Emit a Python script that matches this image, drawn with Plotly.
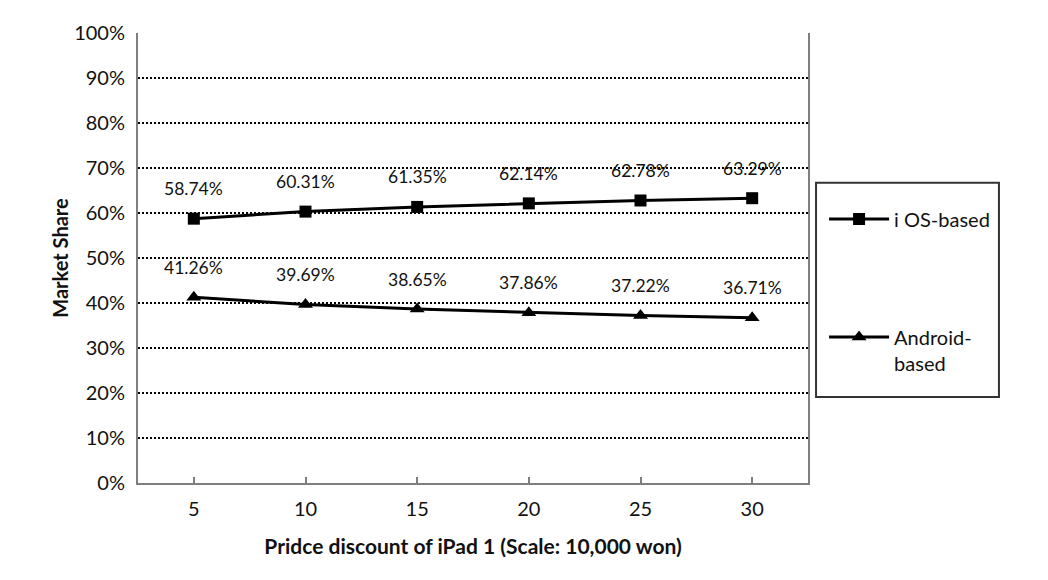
import plotly.graph_objects as go

categories = ["5", "10", "15", "20", "25", "30"]
ios_share = [58.74, 60.31, 61.35, 62.14, 62.78, 63.29]
android_share = [41.26, 39.69, 38.65, 37.86, 37.22, 36.71]
series_names = ["i OS-based", "Android-<br>based"]
y_ticks = list(range(0, 101, 10))
y_tick_labels = [f"{v}%" for v in y_ticks]

FONT = "Lato"
TXT = "#111111"
AX = "#7f7f7f"

fig = go.Figure()
fig.add_trace(go.Scatter(
    x=categories, y=ios_share, name=series_names[0], mode="lines+markers",
    line=dict(color="black", width=3),
    marker=dict(symbol="square", size=12, color="black"),
    legendgroup="a",
))
fig.add_trace(go.Scatter(
    x=categories, y=android_share, name=series_names[1], mode="lines+markers",
    line=dict(color="black", width=3),
    marker=dict(symbol="triangle-up", size=13, color="black"),
    legendgroup="b",
))

for series in (ios_share, android_share):
    for i, v in enumerate(series):
        fig.add_annotation(x=i, y=v, xref="x", yref="y", text=f"{v:.2f}%",
                           showarrow=False, yshift=30,
                           font=dict(family=FONT, size=17.5, color=TXT))

# legend frame
fig.add_shape(type="rect", xref="paper", yref="paper",
              x0=1.012, x1=1.285, y0=0.191, y1=0.667,
              line=dict(color="#333333", width=2), fillcolor="rgba(0,0,0,0)")

fig.update_layout(
    width=1048, height=580,
    margin=dict(l=138, r=240, t=33, b=97),
    paper_bgcolor="white", plot_bgcolor="white",
    font=dict(family=FONT, color=TXT),
    showlegend=True,
    legend=dict(x=1.024, y=0.63, xanchor="left", yanchor="top",
                font=dict(family=FONT, size=20, color=TXT),
                bgcolor="rgba(0,0,0,0)", borderwidth=0, valign="top",
                itemwidth=60, tracegroupgap=89, traceorder="grouped"),
    xaxis=dict(
        type="category", range=[-0.5, 5.5],
        showline=True, linecolor=AX, linewidth=2,
        ticks="inside", ticklen=6, tickcolor=AX, tickwidth=2,
        tickfont=dict(family=FONT, size=20, color=TXT),
        ticklabelstandoff=7,
        showgrid=False, zeroline=False,
        title=dict(text="<b>Pridce discount of iPad 1 (Scale: 10,000 won)</b>",
                   font=dict(family=FONT, size=21, color=TXT), standoff=20),
    ),
    yaxis=dict(
        range=[0, 100], tickvals=y_ticks, ticktext=y_tick_labels,
        showline=True, linecolor=AX, linewidth=2, mirror=True,
        ticks="", tickfont=dict(family=FONT, size=20, color=TXT),
        ticklabelstandoff=7,
        showgrid=True, gridcolor="#000000", griddash="2px,2px", gridwidth=1.5,
        zeroline=False,
        title=dict(text="<b>Market Share</b>",
                   font=dict(family=FONT, size=20, color=TXT), standoff=0),
    ),
)

fig.write_html("out.html")
